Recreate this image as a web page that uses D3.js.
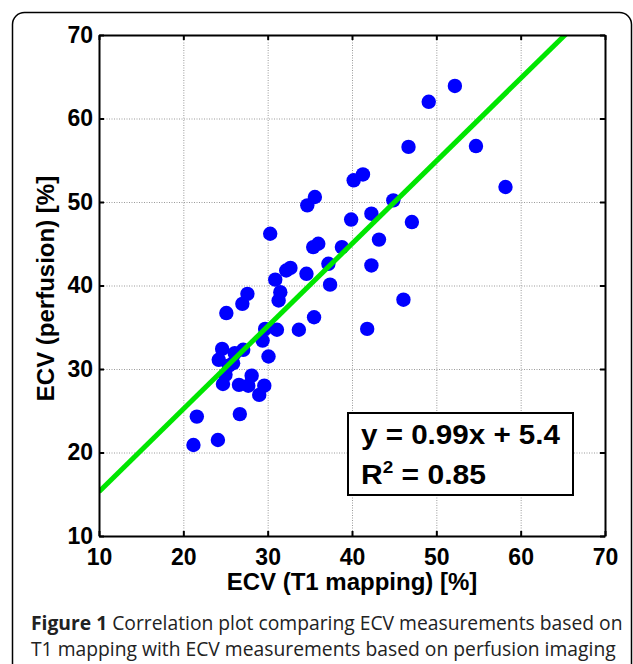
<!DOCTYPE html>
<html>
<head>
<meta charset="utf-8">
<script src="https://cdn.jsdelivr.net/npm/d3@7"></script>
<style>
  body { margin: 0; background: #fff; }
  svg { display: block; }
</style>
</head>
<body>
<div id="chart"></div>
<script>
// ECV values (T1 mapping vs perfusion)
const ecvT1 = [52.2, 49.1, 46.7, 54.7, 58.2, 41.3, 40.2, 35.6, 34.7, 44.9,
               42.3, 39.9, 47.1, 43.2, 36.0, 35.4, 38.8, 37.2, 42.3, 32.7,
               32.2, 34.6, 37.4, 30.9, 30.3, 46.1, 41.8, 27.6, 31.5, 27.0,
               31.3, 25.1, 35.5, 33.7, 29.7, 31.1, 29.4, 24.6, 27.1, 26.1,
               24.2, 30.1, 25.4, 28.1, 24.7, 26.6, 29.6, 27.7, 29.0, 26.7,
               21.6, 24.1, 21.2, 25.0, 25.9];
const ecvPerf = [63.9, 62.0, 56.6, 56.7, 51.8, 53.3, 52.6, 50.6, 49.6, 50.2,
                 48.6, 47.9, 47.6, 45.5, 45.0, 44.6, 44.6, 42.6, 42.4, 42.1,
                 41.8, 41.4, 40.1, 40.7, 46.2, 38.3, 34.8, 39.0, 39.2, 37.8,
                 38.2, 36.7, 36.2, 34.7, 34.8, 34.7, 33.4, 32.4, 32.3, 31.9,
                 31.1, 31.5, 30.4, 29.2, 28.2, 28.1, 28.0, 28.0, 26.9, 24.6,
                 24.3, 21.5, 20.9, 29.3, 30.7];

const xTicks = [10, 20, 30, 40, 50, 60, 70];
const yTicks = [10, 20, 30, 40, 50, 60, 70];
const fitSlope = 0.99;
const fitIntercept = 5.4;
const fitText = "y = 0.99x + 5.4";
const r2Text = "0.85";

const xLabel = "ECV (T1 mapping) [%]";
const yLabel = "ECV (perfusion) [%]";
const captionBold = "Figure 1";
const captionLines = [
  " Correlation plot comparing ECV measurements based on",
  "T1 mapping with ECV measurements based on perfusion imaging"
];

const W = 633, H = 664;
const plot = {left: 99, right: 605, top: 35, bottom: 536};
const axisFont = "'Liberation Sans', Arial, sans-serif";

const svg = d3.select("#chart").append("svg")
  .attr("width", W)
  .attr("height", H);

svg.append("rect").attr("width", W).attr("height", H).attr("fill", "#fff");

// rounded frame around the figure, runs off the bottom
svg.append("rect")
  .attr("x", 12.5).attr("y", 12.5)
  .attr("width", W - 14).attr("height", H + 40)
  .attr("rx", 12).attr("ry", 12)
  .attr("fill", "none")
  .attr("stroke", "#000")
  .attr("stroke-width", 1.5);

const x = d3.scaleLinear().domain([10, 70]).range([plot.left, plot.right]);
const y = d3.scaleLinear().domain([10, 70]).range([plot.bottom, plot.top]);
const pw = plot.right - plot.left, ph = plot.bottom - plot.top;

svg.append("defs").append("clipPath").attr("id", "clip")
  .append("rect")
  .attr("x", plot.left).attr("y", plot.top)
  .attr("width", pw).attr("height", ph);

// dotted grid
const grid = svg.append("g").attr("class", "grid");
grid.append("g")
  .attr("transform", `translate(0,${plot.bottom})`)
  .call(d3.axisBottom(x).tickValues(xTicks).tickSize(-ph).tickFormat(""));
grid.append("g")
  .attr("transform", `translate(${plot.left},0)`)
  .call(d3.axisLeft(y).tickValues(yTicks).tickSize(-pw).tickFormat(""));
grid.selectAll(".domain").remove();
grid.selectAll("line")
  .attr("stroke", "#9a9a9a")
  .attr("stroke-width", 1)
  .attr("stroke-dasharray", "1,1.5");

// points
svg.append("g")
  .selectAll("circle")
  .data(ecvT1.map((d, i) => [d, ecvPerf[i]]))
  .join("circle")
    .attr("cx", d => x(d[0]))
    .attr("cy", d => y(d[1]))
    .attr("r", 7.2)
    .attr("fill", "#0000ff");

// regression line
svg.append("line")
  .attr("clip-path", "url(#clip)")
  .attr("x1", x(10)).attr("y1", y(fitSlope * 10 + fitIntercept))
  .attr("x2", x(70)).attr("y2", y(fitSlope * 70 + fitIntercept))
  .attr("stroke", "#00e600")
  .attr("stroke-width", 5);

// axes with inward ticks on all sides
const axes = svg.append("g").attr("class", "axes");
axes.append("g")
  .attr("transform", `translate(0,${plot.bottom})`)
  .call(d3.axisBottom(x).tickValues(xTicks).tickSize(-5).tickSizeOuter(0).tickPadding(13));
axes.append("g")
  .attr("transform", `translate(${plot.left},0)`)
  .call(d3.axisLeft(y).tickValues(yTicks).tickSize(-5).tickSizeOuter(0).tickPadding(6));
axes.append("g")
  .attr("transform", `translate(0,${plot.top})`)
  .call(d3.axisTop(x).tickValues(xTicks).tickSize(-5).tickSizeOuter(0).tickFormat(""));
axes.append("g")
  .attr("transform", `translate(${plot.right},0)`)
  .call(d3.axisRight(y).tickValues(yTicks).tickSize(-5).tickSizeOuter(0).tickFormat(""));
axes.selectAll(".domain").attr("stroke", "#000").attr("stroke-width", 2);
axes.selectAll(".tick line").attr("stroke", "#000").attr("stroke-width", 2);
axes.selectAll(".tick text")
  .attr("fill", "#000")
  .style("font-family", axisFont)
  .style("font-size", "23px")
  .style("font-weight", "bold");

// axis titles
svg.append("text")
  .attr("x", (plot.left + plot.right) / 2)
  .attr("y", 590)
  .attr("text-anchor", "middle")
  .style("font-family", axisFont)
  .style("font-size", "24px")
  .style("font-weight", "bold")
  .text(xLabel);

svg.append("text")
  .attr("transform", `translate(54,${(plot.top + plot.bottom) / 2 + 3}) rotate(-90)`)
  .attr("text-anchor", "middle")
  .style("font-family", axisFont)
  .style("font-size", "24px")
  .style("font-weight", "bold")
  .text(yLabel);

// fit annotation box
const box = svg.append("g");
box.append("rect")
  .attr("x", 348).attr("y", 413)
  .attr("width", 225).attr("height", 82)
  .attr("fill", "#fff")
  .attr("stroke", "#000")
  .attr("stroke-width", 2);
box.append("text")
  .attr("x", 361).attr("y", 444)
  .attr("textLength", 199)
  .attr("lengthAdjust", "spacingAndGlyphs")
  .style("font-family", axisFont)
  .style("font-size", "27px")
  .style("font-weight", "bold")
  .text(fitText);
const r2 = box.append("text")
  .attr("x", 361).attr("y", 484)
  .attr("textLength", 125)
  .attr("lengthAdjust", "spacingAndGlyphs")
  .style("font-family", axisFont)
  .style("font-size", "27px")
  .style("font-weight", "bold");
r2.append("tspan").text("R");
r2.append("tspan").attr("dy", -11).style("font-size", "17px").text("2");
r2.append("tspan").attr("dy", 11).text(" = " + r2Text);

// caption
const cap = svg.append("g")
  .style("font-family", "'Open Sans', 'Noto Sans', sans-serif")
  .style("font-size", "19.3px")
  .attr("fill", "#222");
const line1 = cap.append("text").attr("x", 31).attr("y", 630);
line1.append("tspan").style("font-weight", "bold").text(captionBold);
line1.append("tspan").text(captionLines[0]);
cap.append("text").attr("x", 31).attr("y", 656).text(captionLines[1]);
</script>
</body>
</html>
